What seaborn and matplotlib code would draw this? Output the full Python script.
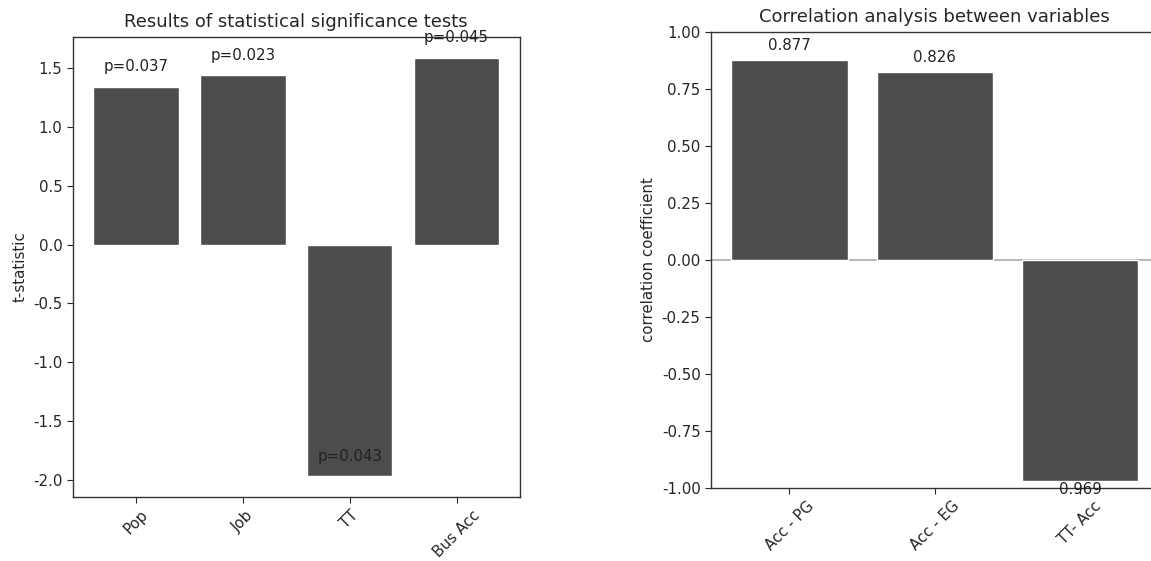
import matplotlib
matplotlib.use("Agg")
import matplotlib.pyplot as plt
import seaborn as sns
import pandas as pd

# ---- data ----
test_vars = ["Pop", "Job", "TT", "Bus Acc"]
t_stats = [1.34, 1.44, -1.97, 1.585]
p_labels = ["p=0.037", "p=0.023", "p=0.043", "p=0.045"]

corr_pairs = ["Acc - PG", "Acc - EG", "TT- Acc"]
corr_vals = [0.877, 0.826, -0.969]
corr_labels = ["0.877", "0.826", "0.969"]

sns.set_style("white")
plt.rcParams['font.family'] = ['DejaVu Sans']
plt.rcParams['axes.unicode_minus'] = False

bar_color = "#4c4c4c"
fs = 10.8

fig = plt.figure(figsize=(11.51, 5.61), dpi=100)
ax1 = fig.add_axes([0.0634, 0.114, 0.388, 0.820])
ax2 = fig.add_axes([0.6177, 0.130, 0.389, 0.813])

df1 = pd.DataFrame({"var": test_vars, "t": t_stats})
sns.barplot(data=df1, x="var", y="t", color=bar_color, saturation=1, ax=ax1, width=0.8)
ax1.set_xlim(-0.59, len(test_vars) - 1 + 0.59)
ax1.set_ylim(-2.145, 1.763)
ax1.set_title("Results of statistical significance tests", fontsize=13, pad=7)
ax1.set_ylabel("t-statistic", fontsize=fs)
ax1.set_xlabel("")
for i, (h, lab) in enumerate(zip(t_stats, p_labels)):
    ax1.text(i, h + 0.17, lab, ha="center", va="center", fontsize=fs, color="#222222")
ax1.tick_params(axis="x", rotation=45, labelsize=fs, bottom=True, length=4)
ax1.tick_params(axis="y", labelsize=fs, left=True, length=4)
for s in ax1.spines.values():
    s.set_visible(True)
    s.set_color("#333333")
    s.set_linewidth(1.0)

df2 = pd.DataFrame({"pair": corr_pairs, "r": corr_vals})
sns.barplot(data=df2, x="pair", y="r", color=bar_color, saturation=1, ax=ax2, width=0.8)
ax2.axhline(0, color="#aaaaaa", lw=1.2, zorder=0.5)
ax2.set_xlim(-0.54, len(corr_pairs) - 1 + 0.54)
ax2.set_ylim(-1.0, 1.0)
ax2.set_yticks([-1.0, -0.75, -0.5, -0.25, 0.0, 0.25, 0.5, 0.75, 1.0])
ax2.set_title("Correlation analysis between variables", fontsize=13, pad=7)
ax2.set_ylabel("correlation coefficient", fontsize=fs)
ax2.set_xlabel("")
for i, (h, lab) in enumerate(zip(corr_vals, corr_labels)):
    if h >= 0:
        ax2.text(i, h + 0.03, lab, ha="center", va="bottom", fontsize=fs, color="#222222")
    else:
        ax2.text(i, h - 0.005, lab, ha="center", va="top", fontsize=fs, color="#222222")
ax2.tick_params(axis="x", rotation=45, labelsize=fs, bottom=True, length=4)
ax2.tick_params(axis="y", labelsize=fs, left=True, length=4)
for s in ax2.spines.values():
    s.set_visible(True)
    s.set_color("#333333")
    s.set_linewidth(1.0)

for ax in (ax1, ax2):
    for lab in ax.get_xticklabels():
        lab.set_ha("center")
        lab.set_rotation_mode("default")

fig.savefig("out.png", dpi=100)
